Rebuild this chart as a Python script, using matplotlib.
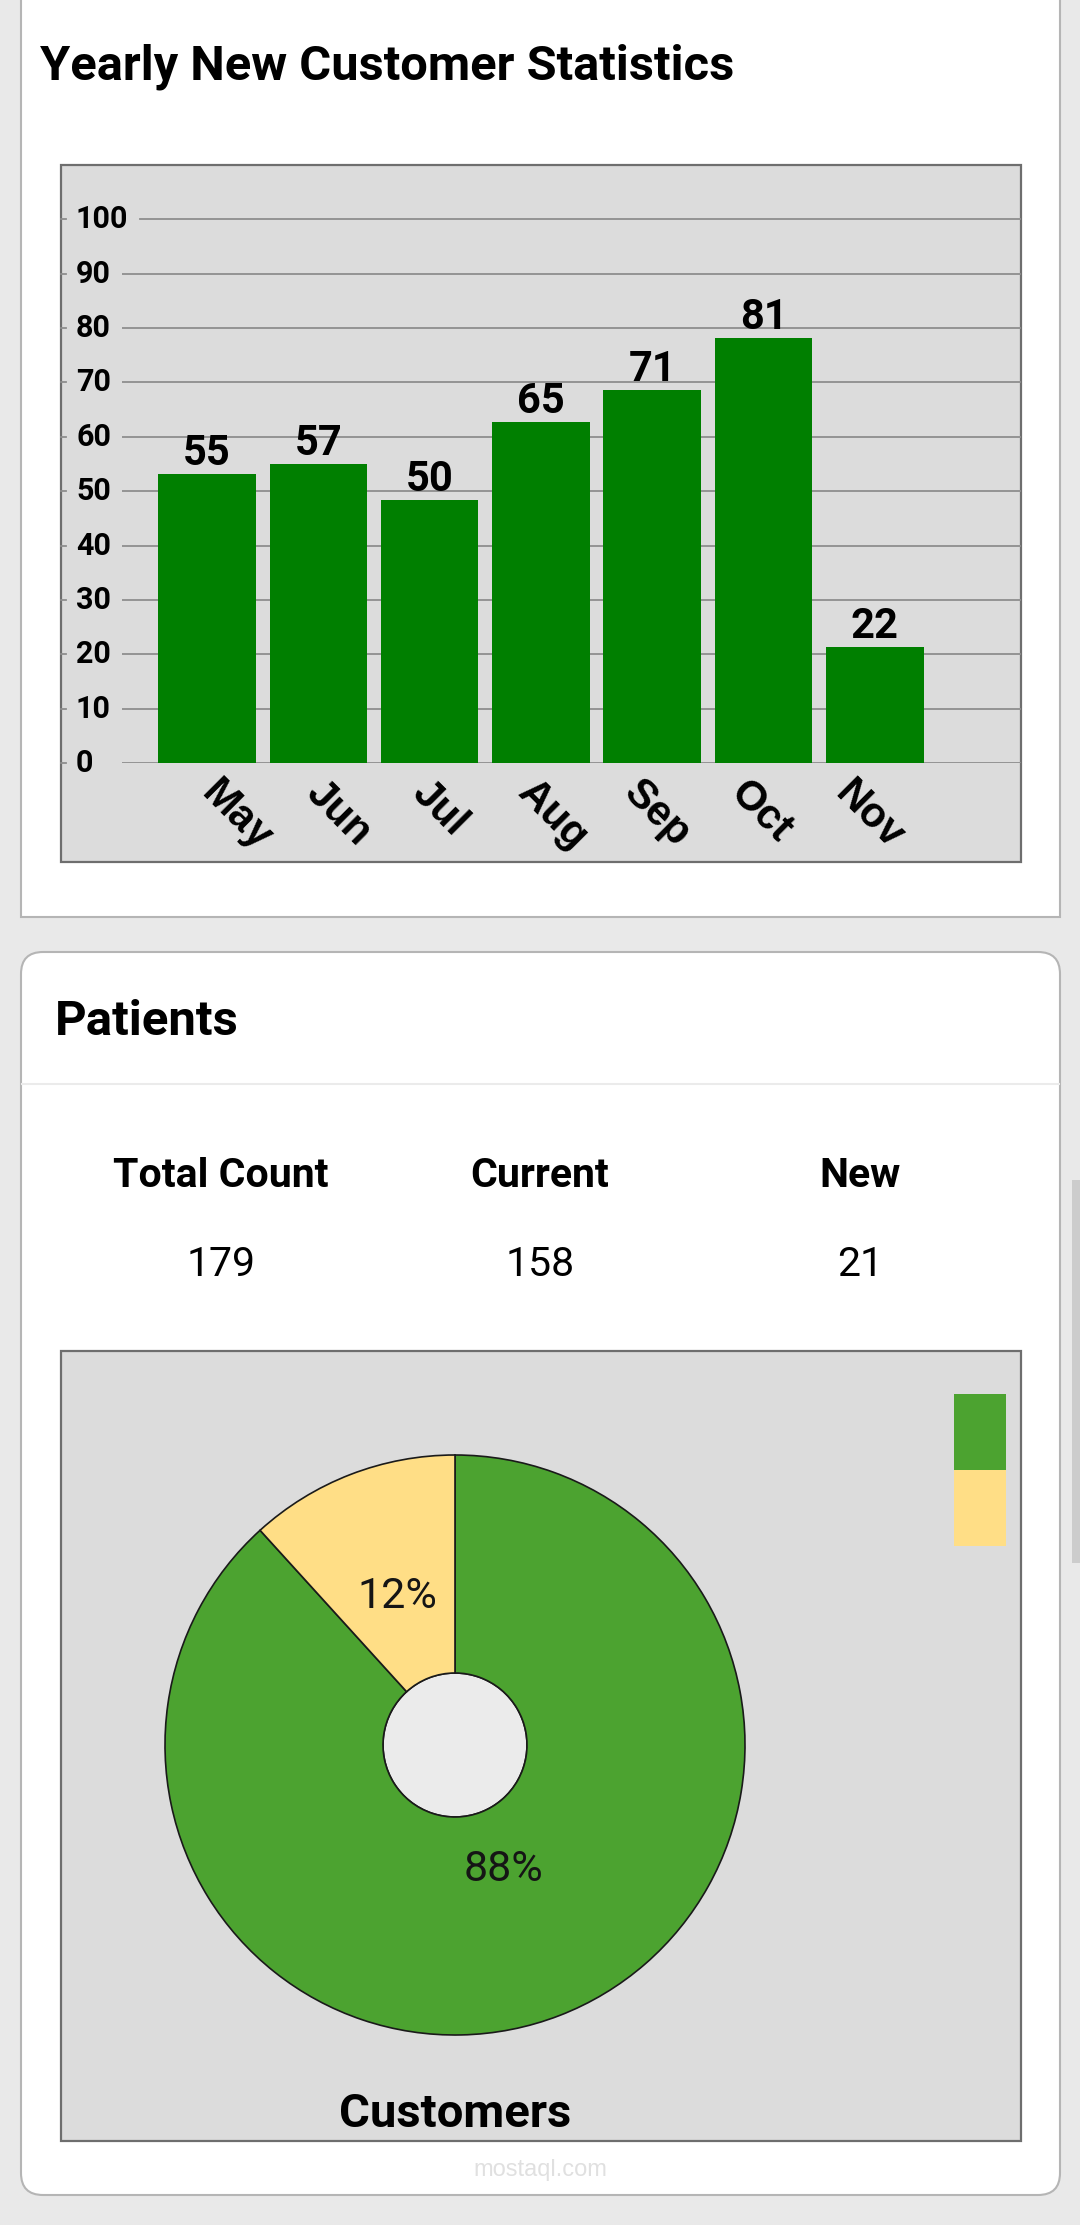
import matplotlib
matplotlib.use('Agg')
import matplotlib.pyplot as plt
from matplotlib.patches import Rectangle, FancyBboxPatch, Circle
from matplotlib.transforms import blended_transform_factory, ScaledTranslation

# bar chart data
months = ['May', 'Jun', 'Jul', 'Aug', 'Sep', 'Oct', 'Nov']
new_customers = [55, 57, 50, 65, 71, 81, 22]
grid_ticks = [0, 10, 20, 30, 40, 50, 60, 70, 80, 90, 100]
grid_max = 110
bar_axis_max = 113.9   # the bars in the source chart sit on a slightly different scale than the grid
label_step = 0.95      # month labels are spaced a bit tighter than the bars in the source

# patients data
stat_names = ['Total Count', 'Current', 'New']
stat_values = [179, 158, 21]
pie_values = [158, 21]   # current, new
pie_colors = ['#4ca330', '#ffde86']

W, H = 1080, 2225
fig = plt.figure(figsize=(W / 100, H / 100), dpi=100, facecolor='#e9e9e9')

# background axes in pixel coords (y down)
bg = fig.add_axes([0, 0, 1, 1])
bg.set_xlim(0, W)
bg.set_ylim(H, 0)
bg.axis('off')


def box(x0, y0, x1, y1):
    return [x0 / W, 1 - y1 / H, (x1 - x0) / W, (y1 - y0) / H]


# cards
bg.add_patch(Rectangle((21, -10), 1039, 927, fc='white', ec='#b5b5b5', lw=1.5))
bg.add_patch(FancyBboxPatch((21, 952), 1039, 1243, boxstyle='round,pad=0,rounding_size=22',
                            fc='white', ec='#b5b5b5', lw=1.5))
bg.plot([22, 1059], [1084, 1084], color='#ebebeb', lw=1.5)
bg.add_patch(Rectangle((1072, 1180), 8, 383, fc='#cccccc', ec='none'))

# chart panels
bg.add_patch(Rectangle((61, 165), 960, 697, fc='#dcdcdc', ec='#6e6e6e', lw=1.6))
bg.add_patch(Rectangle((61, 1351), 960, 790, fc='#dcdcdc', ec='#6e6e6e', lw=1.6))

# titles
bg.text(40, 80, 'Yearly New Customer Statistics', fontsize=35.2, fontweight='bold',
        family='Roboto', va='baseline')
bg.text(55, 1035, 'Patients', fontsize=35.5, fontweight='bold', family='Roboto', va='baseline')

for x, name, val in zip([221, 540, 860], stat_names, stat_values):
    bg.text(x, 1187, name, ha='center', va='baseline', fontsize=29.5, fontweight='bold', family='Roboto')
    bg.text(x, 1276, str(val), ha='center', va='baseline', fontsize=29.5, family='Roboto')

# ---- bar chart ----
axg = fig.add_axes(box(122, 165, 1021, 763))
axg.set_xlim(0, 1)
axg.set_ylim(0, grid_max)
axg.axis('off')
trans = blended_transform_factory(bg.transData, axg.transData)
for v in grid_ticks:
    start = 0.02 if len(str(v)) > 2 else 0
    axg.axhline(v, xmin=start, color='#8e8e8e', lw=1.3)
    axg.text(76, v, str(v), transform=trans, ha='left', va='center', fontsize=22,
             fontweight='bold', family='Roboto')
    axg.plot([61, 66], [v, v], transform=trans, color='#8e8e8e', lw=1.3, clip_on=False)

ax = fig.add_axes(box(122, 165, 1021, 763))
ax.patch.set_visible(False)
bars = ax.bar(range(len(months)), new_customers, width=0.876, color='#007f00')
ax.set_xlim(-0.764, 7.313)
ax.set_ylim(0, bar_axis_max)
for s in ax.spines.values():
    s.set_visible(False)
ax.set_yticks([])
ax.set_xticks([i * label_step for i in range(len(months))])
ax.set_xticklabels(months, rotation=-45, ha='left', rotation_mode='anchor', fontsize=30,
                   fontweight='bold', family='Liberation Sans')
ax.tick_params(axis='x', length=0, pad=7)
shift = ScaledTranslation(0.14, 0, fig.dpi_scale_trans)
for lbl in ax.get_xticklabels():
    lbl.set_transform(lbl.get_transform() + shift)
ax.bar_label(bars, labels=[str(v) for v in new_customers], padding=0, fontsize=30,
             fontweight='bold', family='Roboto')

# ---- donut chart ----
cx, cy, r = 455, 1745, 290
axp = fig.add_axes(box(cx - 300, cy - 300, cx + 300, cy + 300))
wedges, texts, autotexts = axp.pie(
    pie_values, colors=pie_colors, startangle=90, counterclock=False, radius=1,
    autopct='%.0f%%', pctdistance=0.5,
    wedgeprops=dict(width=1 - 72 / r, edgecolor='#1a1a1a', linewidth=1.2),
    textprops=dict(fontsize=31, color='#151515', family='Roboto'))
axp.add_patch(Circle((0, 0), 72 / r, fc='#ebebeb', ec='#1a1a1a', lw=1.2, zorder=0))
for t, d in zip(autotexts, [0.46, 0.55]):
    x, y = t.get_position()
    t.set_position((x * d / 0.5, y * d / 0.5))
axp.set_xlim(-300 / r, 300 / r)
axp.set_ylim(-300 / r, 300 / r)
axp.axis('off')

bg.text(cx, 2127, 'Customers', ha='center', va='baseline', fontsize=34, fontweight='bold',
        family='Roboto')

# legend swatches (no text in source)
for i, c in enumerate(pie_colors):
    bg.add_patch(Rectangle((954, 1394 + 76 * i), 52, 76, fc=c, ec='none'))

bg.text(540, 2170, 'mostaql.com', ha='center', va='center', fontsize=17, color='#e0e0e0',
        family='Liberation Sans')

fig.savefig('out.png', dpi=100, facecolor=fig.get_facecolor())
